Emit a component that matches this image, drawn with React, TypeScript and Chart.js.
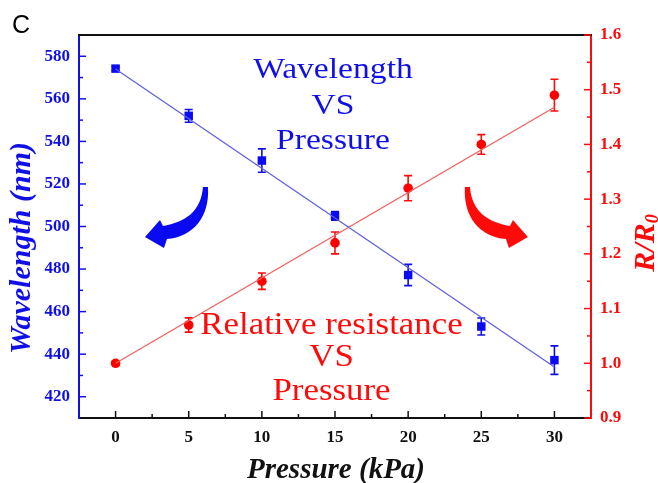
import { useEffect, useRef } from "react";
import { Chart, registerables } from "chart.js";

Chart.register(...registerables);

// ---- data ----
const pressure = [0, 5, 10, 15, 20, 25, 30];
const wavelength = [574.2, 552, 531, 505, 477.2, 453, 437.2];
const wavelengthErr = [1, 3, 5.5, 2, 5, 4, 6.7];
const resistance = [1.0, 1.07, 1.15, 1.22, 1.32, 1.4, 1.49];
const resistanceErr = [0.004, 0.013, 0.015, 0.02, 0.023, 0.018, 0.029];
const fitPressure = [0, 30];
const wavelengthFit = [574, 434];
const resistanceFit = [1.0, 1.468];

const xTicks = [0, 5, 10, 15, 20, 25, 30];
const xMinorTicks = [2.5, 7.5, 12.5, 17.5, 22.5, 27.5];
const yTicks = [420, 440, 460, 480, 500, 520, 540, 560, 580];
const yMinorTicks = [430, 450, 470, 490, 510, 530, 550, 570];
const y1Ticks = [0.9, 1.0, 1.1, 1.2, 1.3, 1.4, 1.5, 1.6];
const y1MinorTicks = [0.95, 1.05, 1.15, 1.25, 1.35, 1.45, 1.55];

const wlLabel = ["Wavelength", "VS", "Pressure"];
const rrLabel = ["Relative resistance", "VS", "Pressure"];
const xTitle = "Pressure (kPa)";
const yTitle = "Wavelength (nm)";
const panelLabel = "C";

const BLUE = "#1010e6";
const RED = "#ff0a0a";
const SERIF = "'Liberation Serif', 'Times New Roman', serif";

const decor = {
  id: "decor",
  beforeDatasetsDraw(chart: any) {
    const ctx = chart.ctx;
    const x = chart.scales.x;
    const y = chart.scales.y;
    const y1 = chart.scales.y1;
    const drawErr = (vals: number[], errs: number[], sc: any, color: string) => {
      ctx.save();
      ctx.strokeStyle = color;
      ctx.lineWidth = 1.6;
      vals.forEach((v, i) => {
        const px = x.getPixelForValue(pressure[i]);
        const top = sc.getPixelForValue(v + errs[i]);
        const bot = sc.getPixelForValue(v - errs[i]);
        ctx.beginPath();
        ctx.moveTo(px, top);
        ctx.lineTo(px, bot);
        ctx.moveTo(px - 4, top);
        ctx.lineTo(px + 4, top);
        ctx.moveTo(px - 4, bot);
        ctx.lineTo(px + 4, bot);
        ctx.stroke();
      });
      ctx.restore();
    };
    drawErr(wavelength, wavelengthErr, y, BLUE);
    drawErr(resistance, resistanceErr, y1, RED);
  },
  afterDraw(chart: any) {
    const ctx = chart.ctx;
    const { left, right, top, bottom } = chart.chartArea;
    const x = chart.scales.x;
    const y = chart.scales.y;
    const y1 = chart.scales.y1;
    ctx.save();
    // top spine
    ctx.strokeStyle = "#111";
    ctx.lineWidth = 2;
    ctx.beginPath();
    ctx.moveTo(left - 1, top);
    ctx.lineTo(right + 1, top);
    ctx.stroke();
    // inward ticks
    ctx.lineWidth = 1.5;
    const hTick = (vals: number[], len: number) => {
      ctx.strokeStyle = "#111";
      vals.forEach((v) => {
        const px = x.getPixelForValue(v);
        ctx.beginPath();
        ctx.moveTo(px, bottom);
        ctx.lineTo(px, bottom - len);
        ctx.stroke();
      });
    };
    hTick(xTicks, 7);
    hTick(xMinorTicks, 4);
    const vTick = (vals: number[], sc: any, len: number, side: number, color: string) => {
      ctx.strokeStyle = color;
      const ax = side < 0 ? left : right;
      vals.forEach((v) => {
        const py = sc.getPixelForValue(v);
        ctx.beginPath();
        ctx.moveTo(ax, py);
        ctx.lineTo(ax - side * len, py);
        ctx.stroke();
      });
    };
    vTick(yTicks, y, 7, -1, BLUE);
    vTick(yMinorTicks, y, 4, -1, BLUE);
    vTick(y1Ticks, y1, 7, 1, RED);
    vTick(y1MinorTicks, y1, 4, 1, RED);

    // titles
    ctx.textAlign = "center";
    ctx.textBaseline = "alphabetic";
    ctx.fillStyle = "#111";
    ctx.font = `italic bold 29px ${SERIF}`;
    ctx.fillText(xTitle, (left + right) / 2 + 1, 478);

    ctx.save();
    ctx.translate(30, 248);
    ctx.rotate(-Math.PI / 2);
    ctx.fillStyle = BLUE;
    ctx.font = `italic bold 30px ${SERIF}`;
    ctx.fillText(yTitle, 0, 0);
    ctx.restore();

    ctx.save();
    ctx.translate(654, 243);
    ctx.rotate(-Math.PI / 2);
    ctx.fillStyle = RED;
    ctx.font = `italic bold 30px ${SERIF}`;
    const main = "R/R";
    const wMain = ctx.measureText(main).width;
    ctx.font = `italic bold 18px ${SERIF}`;
    const wSub = ctx.measureText("0").width;
    const start = -(wMain + wSub) / 2;
    ctx.textAlign = "left";
    ctx.font = `italic bold 30px ${SERIF}`;
    ctx.fillText(main, start, 0);
    ctx.font = `italic bold 18px ${SERIF}`;
    ctx.fillText("0", start + wMain, 4);
    ctx.restore();

    // panel label
    ctx.textAlign = "left";
    ctx.fillStyle = "#000";
    ctx.font = `25px 'Liberation Sans', Arial, sans-serif`;
    ctx.fillText(panelLabel, 12, 33);

    // annotation texts
    const drawBlock = (lines: string[], cx: number, baselines: number[], sc: any, color: string, size: number, stretch: number) => {
      ctx.save();
      ctx.fillStyle = color;
      ctx.font = `${size}px ${SERIF}`;
      ctx.textAlign = "center";
      const px = x.getPixelForValue(cx);
      lines.forEach((t, i) => {
        const py = sc.getPixelForValue(baselines[i]);
        ctx.save();
        ctx.translate(px, py);
        ctx.scale(stretch, 1);
        ctx.fillText(t, 0, 0);
        ctx.restore();
      });
      ctx.restore();
    };
    drawBlock(wlLabel, 14.86, [569.8, 552.9, 536.4], y, BLUE, 30, 1.12);
    drawBlock(rrLabel, 14.76, [1.0535, 0.995, 0.933], y1, RED, 32, 1.09);

    // curved arrows
    const arrow = (tx: number, ty: number, s: number, color: string) => {
      ctx.save();
      ctx.translate(tx, ty);
      ctx.scale(s, 1);
      ctx.fillStyle = color;
      ctx.beginPath();
      ctx.moveTo(58, -50);
      ctx.lineTo(63, -50);
      ctx.bezierCurveTo(65, -20, 48, 0, 22, 2);
      ctx.lineTo(19, 11);
      ctx.lineTo(0, 0);
      ctx.lineTo(15, -17);
      ctx.lineTo(18, -11);
      ctx.bezierCurveTo(40, -15, 56, -25, 58, -50);
      ctx.closePath();
      ctx.fill();
      ctx.restore();
    };
    arrow(x.getPixelForValue(2.01), y.getPixelForValue(495.1), 1, "#0a0af0");
    arrow(x.getPixelForValue(28.19), y1.getPixelForValue(1.231), -1, "#ff0a0a");
    ctx.restore();
  },
};

export default function App() {
  const ref = useRef<HTMLCanvasElement | null>(null);
  useEffect(() => {
    if (!ref.current) return;
    const tickFont = { family: SERIF, weight: "bold" as const, size: 17 };
    const chart = new Chart(ref.current, {
      type: "scatter",
      data: {
        datasets: [
          {
            type: "line",
            data: fitPressure.map((p, i) => ({ x: p, y: wavelengthFit[i] })),
            yAxisID: "y",
            borderColor: "#6060e0",
            borderWidth: 1.3,
            pointRadius: 0,
            fill: false,
          },
          {
            type: "line",
            data: fitPressure.map((p, i) => ({ x: p, y: resistanceFit[i] })),
            yAxisID: "y1",
            borderColor: "#f06060",
            borderWidth: 1.3,
            pointRadius: 0,
            fill: false,
          },
          {
            data: pressure.map((p, i) => ({ x: p, y: wavelength[i] })),
            yAxisID: "y",
            pointStyle: "rect",
            pointRadius: 6,
            backgroundColor: "#0a0af5",
            borderWidth: 0,
            showLine: false,
          },
          {
            data: pressure.map((p, i) => ({ x: p, y: resistance[i] })),
            yAxisID: "y1",
            pointStyle: "circle",
            pointRadius: 4.8,
            backgroundColor: "#ff0000",
            borderWidth: 0,
            showLine: false,
          },
        ],
      },
      options: {
        responsive: false,
        animation: false,
        events: [],
        layout: { padding: { top: 35, left: 0, right: 0, bottom: 0 } },
        plugins: { legend: { display: false }, tooltip: { enabled: false } },
        scales: {
          x: {
            type: "linear",
            min: -2.5,
            max: 32.5,
            afterBuildTicks: (s: any) => {
              s.ticks = xTicks.map((v) => ({ value: v }));
            },
            afterFit: (s: any) => {
              s.height = 65;
            },
            ticks: { font: tickFont, color: "#111", padding: 9, autoSkip: false, maxRotation: 0, callback: (v: any) => String(v) },
            grid: { display: false, drawTicks: false },
            border: { display: true, color: "#111", width: 2 },
          },
          y: {
            type: "linear",
            position: "left",
            min: 410,
            max: 590,
            afterBuildTicks: (s: any) => {
              s.ticks = yTicks.map((v) => ({ value: v }));
            },
            afterFit: (s: any) => {
              s.width = 79;
            },
            ticks: { font: tickFont, color: BLUE, padding: 9, autoSkip: false, callback: (v: any) => String(v) },
            grid: { display: false, drawTicks: false },
            border: { display: true, color: BLUE, width: 2 },
          },
          y1: {
            type: "linear",
            position: "right",
            min: 0.9,
            max: 1.6,
            afterBuildTicks: (s: any) => {
              s.ticks = y1Ticks.map((v) => ({ value: v }));
            },
            afterFit: (s: any) => {
              s.width = 67;
            },
            ticks: { font: tickFont, color: RED, padding: 9, autoSkip: false, callback: (v: any) => Number(v).toFixed(1) },
            grid: { display: false, drawTicks: false },
            border: { display: true, color: RED, width: 2 },
          },
        },
      },
      plugins: [decor],
    } as any);
    return () => chart.destroy();
  }, []);
  return (
    <div style={{ position: "fixed", left: 0, top: 0, width: 658, height: 483, background: "#fff" }}>
      <canvas ref={ref} width={658} height={483} style={{ width: 658, height: 483, display: "block" }} />
    </div>
  );
}
